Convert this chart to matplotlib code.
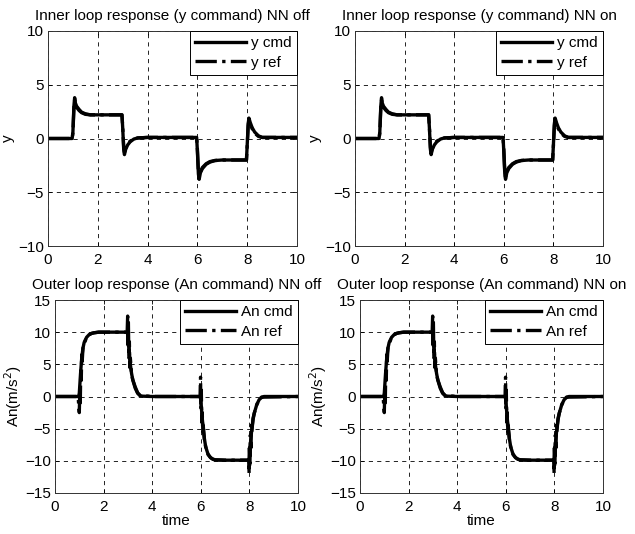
import matplotlib
matplotlib.use("Agg")
import matplotlib.pyplot as plt

plt.rcParams['font.family'] = ['Liberation Sans', 'DejaVu Sans']

# ---------------- data ----------------
time_ticks = [0, 2, 4, 6, 8, 10]
y_ticks_inner = [-10, -5, 0, 5, 10]
y_ticks_outer = [-15, -10, -5, 0, 5, 10, 15]

# inner loop: y command
t_y_cmd = [0, 0.97, 1.0, 1.04, 1.07, 1.1, 1.15, 1.25, 1.35, 1.5, 1.7, 2.0, 2.97,
           3.0, 3.04, 3.07, 3.12, 3.2, 3.3, 3.45, 3.6, 4.0, 5.97, 6.0, 6.04,
           6.07, 6.12, 6.2, 6.35, 6.5, 6.7, 7.0, 7.97, 8.0, 8.04, 8.07, 8.12,
           8.2, 8.3, 8.45, 8.6, 10]
v_y_cmd = [0, 0, 0.6, 3.0, 3.8, 3.3, 3.0, 2.7, 2.45, 2.3, 2.2, 2.2, 2.2,
           1.0, -1.0, -1.5, -1.0, -0.6, -0.3, -0.05, 0.05, 0.1, 0.1, -1.2, -3.3,
           -3.8, -3.2, -2.8, -2.4, -2.2, -2.05, -2.0, -2.0, -0.6, 1.4, 1.9, 1.5,
           1.0, 0.6, 0.25, 0.1, 0.1]
t_y_ref = [0, 0.97, 1.0, 1.04, 1.07, 1.1, 1.15, 1.25, 1.35, 1.5, 1.7, 2.0, 2.97,
           3.0, 3.04, 3.07, 3.12, 3.2, 3.3, 3.45, 3.6, 4.0, 5.97, 6.0, 6.04,
           6.07, 6.12, 6.2, 6.35, 6.5, 6.7, 7.0, 7.97, 8.0, 8.04, 8.07, 8.12,
           8.2, 8.3, 8.45, 8.6, 10]
v_y_ref = [0, 0, 0.5, 2.8, 3.6, 3.1, 2.9, 2.6, 2.4, 2.25, 2.2, 2.2, 2.2,
           1.1, -0.8, -1.3, -0.9, -0.5, -0.25, -0.05, 0.05, 0.1, 0.1, -1.0, -3.1,
           -3.6, -3.1, -2.7, -2.35, -2.15, -2.05, -2.0, -2.0, -0.7, 1.2, 1.7, 1.4,
           0.9, 0.5, 0.2, 0.1, 0.1]

# outer loop: An command
t_an_cmd = [0, 0.97, 1.0, 1.05, 1.1, 1.15, 1.2, 1.3, 1.4, 1.5, 1.6, 1.8, 2.0,
            2.97, 3.0, 3.05, 3.1, 3.15, 3.2, 3.3, 3.4, 3.5, 3.6, 4.0,
            5.97, 6.0, 6.05, 6.1, 6.15, 6.2, 6.3, 6.4, 6.5, 6.6, 7.0,
            7.97, 8.0, 8.05, 8.1, 8.15, 8.2, 8.3, 8.4, 8.5, 8.6, 10]
v_an_cmd = [0, 0, 0.5, 3.5, 6.0, 7.5, 8.4, 9.2, 9.6, 9.8, 9.9, 10.0, 10.0,
            10.0, 9.5, 7.0, 5.0, 3.6, 2.6, 1.3, 0.5, 0.15, 0.05, 0.0,
            0.0, -0.5, -3.0, -5.0, -6.6, -7.8, -9.0, -9.5, -9.75, -9.85, -9.9,
            -9.9, -9.5, -7.0, -5.0, -3.6, -2.6, -1.3, -0.5, -0.15, 0.0, 0.0]
t_an_ref = [0, 0.95, 0.98, 1.0, 1.02, 1.04, 1.06, 1.08, 1.1, 1.12, 1.15, 1.2,
            1.3, 1.4, 1.5, 1.6, 1.8, 2.0, 2.97, 2.99, 3.0, 3.02, 3.04, 3.06,
            3.08, 3.1, 3.15, 3.2, 3.3, 3.4, 3.5, 4.0, 5.97, 5.99, 6.0, 6.02,
            6.04, 6.06, 6.08, 6.1, 6.15, 6.2, 6.3, 6.4, 6.5, 6.6, 7.0, 7.97,
            7.99, 8.0, 8.02, 8.04, 8.06, 8.08, 8.1, 8.15, 8.2, 8.3, 8.4, 8.5, 10]
v_an_ref = [0, 0, -1.5, -2.5, 1.0, -1.0, 4.0, 2.5, 6.5, 5.5, 7.5, 8.2,
            9.2, 9.6, 9.8, 9.9, 10.0, 10.0, 10.0, 12.5, 8.0, 11.5, 6.0, 8.5,
            4.5, 6.0, 3.5, 2.6, 1.5, 0.6, 0.15, 0.0, 0.0, 3.0, -2.0, 1.0,
            -4.0, -2.5, -5.5, -4.5, -6.8, -7.8, -9.0, -9.5, -9.75, -9.85, -9.9, -9.9,
            -12.0, -8.0, -11.0, -6.0, -8.0, -4.5, -5.5, -3.4, -2.6, -1.3, -0.5, -0.1, 0.0]

titles = ["Inner loop response (y command) NN off",
          "Inner loop response (y command) NN on",
          "Outer loop response (An command) NN off",
          "Outer loop response (An command) NN on"]

# ---------------- figure ----------------
fig = plt.figure(figsize=(6.35, 5.34), dpi=100)
W, H = 635, 534

def ax_at(l, t, r, b):
    return fig.add_axes([l / W, 1 - b / H, (r - l) / W, (b - t) / H])

axes = [ax_at(48, 31, 297, 246), ax_at(355, 31, 603, 246),
        ax_at(55, 300, 298, 493), ax_at(360, 300, 603, 493)]

fs = 11
for i, ax in enumerate(axes):
    inner = i < 2
    if inner:
        ax.plot(t_y_cmd, v_y_cmd, color='black', lw=2.4, ls='-', label='y cmd')
        ax.plot(t_y_ref, v_y_ref, color='black', lw=2.4, ls='-.', label='y ref')
        ax.set_ylim(-10, 10)
        ax.set_yticks(y_ticks_inner)
        ax.set_ylabel('y', fontsize=fs, labelpad=2)
    else:
        ax.plot(t_an_cmd, v_an_cmd, color='black', lw=2.4, ls='-', label='An cmd')
        ax.plot(t_an_ref, v_an_ref, color='black', lw=2.4, ls='-.', label='An ref')
        ax.set_ylim(-15, 15)
        ax.set_yticks(y_ticks_outer)
        ax.set_ylabel('An(m/s$^2$)', fontsize=fs, labelpad=1)
        ax.set_xlabel('time', fontsize=fs, labelpad=0)
    ax.set_xlim(0, 10)
    ax.set_xticks(time_ticks)
    ax.tick_params(labelsize=fs, direction='in', length=3, width=0.6,
                   top=True, right=True)
    ax.tick_params(axis='x', pad=5)
    ax.tick_params(axis='y', pad=3)
    ax.grid(True, color='black', ls=(0, (5, 5)), lw=0.6)
    for s in ax.spines.values():
        s.set_linewidth(0.7)
        s.set_color('#333333')
    ax.set_title(titles[i], fontsize=fs, pad=8)
    leg = ax.legend(loc='upper right', fontsize=fs, handlelength=3.3,
                    borderaxespad=0, fancybox=False, framealpha=1,
                    edgecolor='black', borderpad=0.35, labelspacing=0.35,
                    handletextpad=0.35)
    leg.get_frame().set_linewidth(0.7)

fig.savefig('out.png', dpi=100)
